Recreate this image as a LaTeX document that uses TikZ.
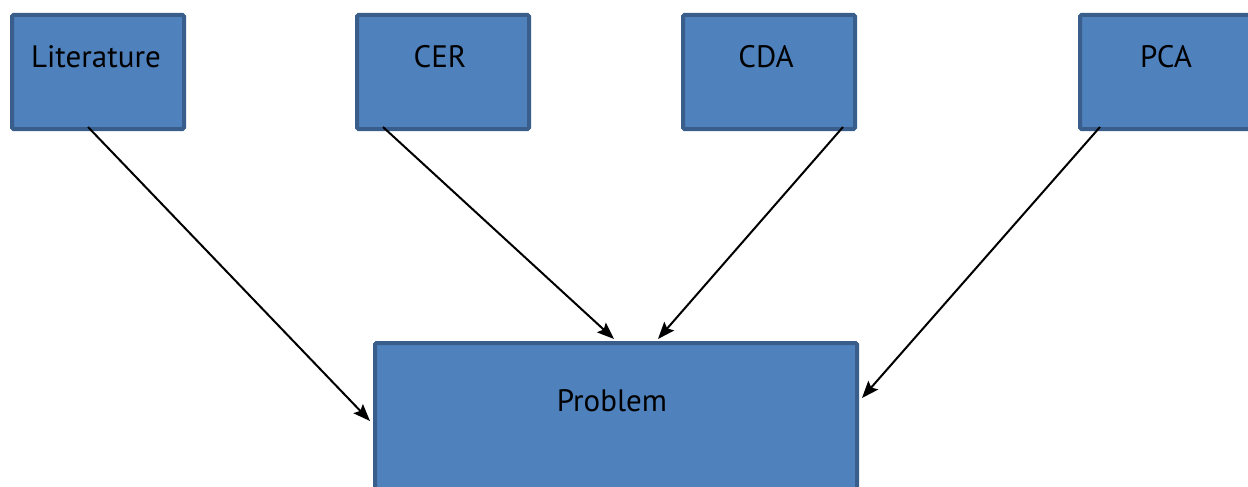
\documentclass[tikz,border=0pt]{standalone}
\usepackage{fontspec}
\setmainfont{PT Sans}
\usetikzlibrary{arrows.meta}
\definecolor{boxfill}{HTML}{4F81BD}
\definecolor{boxline}{HTML}{3A5E8C}
\begin{document}
\begin{tikzpicture}[x=1pt,y=-1pt,
  block/.style={draw=boxline,fill=boxfill,line width=4pt,rounded corners=1.5pt,
    inner sep=0pt,anchor=north west},
  label/.style={font=\fontsize{31}{36}\selectfont,text=black,inner sep=0pt},
  arr/.style={-{Stealth[length=17pt,width=13pt,inset=3pt]},line width=2pt,black}]
\useasboundingbox (0,0) rectangle (1248,487);
\clip (0,0) rectangle (1248,487);
% upper boxes
\node[block,minimum width=172pt,minimum height=114pt] (lit) at (10,13) {};
\node[block,minimum width=172pt,minimum height=114pt] (cer) at (355,13) {};
\node[block,minimum width=172pt,minimum height=114pt] (cda) at (681,13) {};
\node[block,minimum width=174pt,minimum height=114pt] (pca) at (1078,13) {};
% lower box
\node[block,minimum width=482pt,minimum height=160pt] (prob) at (373,341) {};
% captions
\node[label] (litT) at (96,57) {Literature};
\node[label] (cerT) at (440,57) {CER};
\node[label] (cdaT) at (766,57) {CDA};
\node[label] (pcaT) at (1166,57) {PCA};
\node[label] (probT) at (612,401) {Problem};
% connector ends
\coordinate (litOut) at (88,127);
\coordinate (cerOut) at (383,127);
\coordinate (cdaOut) at (843,127);
\coordinate (pcaOut) at (1100,127);
\coordinate (inL) at (370,421);
\coordinate (inCer) at (614,339);
\coordinate (inCda) at (658,339);
\coordinate (inR) at (862,398);
\draw[arr] (litOut) -- (inL);
\draw[arr] (cerOut) -- (inCer);
\draw[arr] (cdaOut) -- (inCda);
\draw[arr] (pcaOut) -- (inR);
\end{tikzpicture}
\end{document}
